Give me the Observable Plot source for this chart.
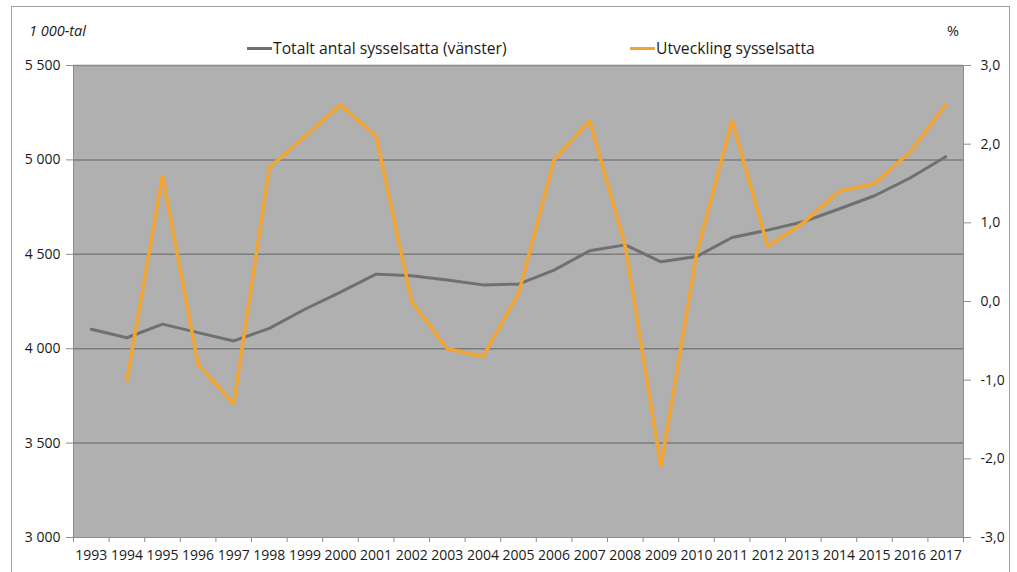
<!DOCTYPE html>
<html>
<head>
<meta charset="utf-8">
<script src="https://cdn.jsdelivr.net/npm/d3@7"></script>
<script src="https://cdn.jsdelivr.net/npm/@observablehq/plot@0.6"></script>
<style>
  body { margin: 0; background: #fff; font-family: "Open Sans", Lato, sans-serif; }
  #wrap { position: relative; width: 1017px; height: 572px; overflow: hidden; }
  #border { position: absolute; left: 11px; top: 6px; width: 999px; height: 575px; border: 1.5px solid #a0a0a0; box-sizing: border-box; }
  .lbl { position: absolute; font-size: 15.7px; color: #1a1a1a; white-space: nowrap; line-height: 1; }
  .sw { display: inline-block; width: 25px; height: 3px; vertical-align: middle; margin-right: 1px; position: relative; top: -1px; }
  #chart { position: absolute; left: 0; top: 0; }
</style>
</head>
<body>
<div id="wrap">
  <div id="border"></div>
  <div id="chart"></div>
  <div class="lbl" style="left:29px; top:24px; font-style:italic; font-size:14.5px;">1 000-tal</div>
  <div class="lbl" style="left:947px; top:24px; font-size:14.5px;">%</div>
  <div class="lbl" style="left:247px; top:41px;"><span class="sw" style="background:#6f6f6f"></span>Totalt antal sysselsatta (vänster)</div>
  <div class="lbl" style="left:630px; top:41px;"><span class="sw" style="background:#f2a530"></span>Utveckling sysselsatta</div>
</div>
<script>
const years = ["1993","1994","1995","1996","1997","1998","1999","2000","2001","2002","2003","2004","2005","2006","2007","2008","2009","2010","2011","2012","2013","2014","2015","2016","2017"];
const total = [4103,4058,4130,4085,4041,4108,4209,4300,4395,4386,4364,4338,4342,4416,4519,4550,4460,4488,4589,4628,4672,4740,4810,4904,5017];
const changeYears = ["1994","1995","1996","1997","1998","1999","2000","2001","2002","2003","2004","2005","2006","2007","2008","2009","2010","2011","2012","2013","2014","2015","2016","2017"];
const change = [-1.0,1.6,-0.8,-1.3,1.7,2.1,2.5,2.1,0.0,-0.6,-0.7,0.1,1.8,2.3,0.7,-2.1,0.6,2.3,0.7,1.0,1.4,1.5,1.9,2.5];
const leftTicks = [3000,3500,4000,4500,5000,5500];
const rightTicks = [-3,-2,-1,0,1,2,3];

const toLeft = d3.scaleLinear([-3, 3], [3000, 5500]);
const fmtL = d => d3.format(",")(d).replace(/,/g, " ");
const fmtR = d => { let v = Math.round(toLeft.invert(d) * 10) / 10; if (Math.abs(v) < 1e-9) v = 0; return v.toFixed(1).replace(".", ","); };

const half = 890 / 25 / 2;

const chart = Plot.plot({
  width: 1017,
  height: 572,
  marginLeft: 73,
  marginRight: 54,
  marginTop: 65,
  marginBottom: 35,
  style: { fontFamily: "'Open Sans', Lato, sans-serif", fontSize: "14px", color: "#1a1a1a", background: "transparent", overflow: "visible" },
  x: { type: "point", domain: years, padding: 0.5, round: false },
  y: { domain: [3000, 5500] },
  marks: [
    Plot.frame({ fill: "#b0b0b0", stroke: null }),
    Plot.gridY(leftTicks.filter(d => d > 3000), { stroke: "#7c7c7c", strokeOpacity: 1, strokeWidth: 1.5 }),
    Plot.frame({ stroke: "#8c8c8c", fill: null, strokeWidth: 1 }),
    Plot.axisY(leftTicks, { anchor: "left", tickSize: 7, tickPadding: 6, tickFormat: fmtL, stroke: "#8c8c8c", fill: "#1a1a1a", label: null }),
    Plot.axisY(rightTicks.map(toLeft), { anchor: "right", tickSize: 7, tickPadding: 10, tickFormat: fmtR, stroke: "#8c8c8c", fill: "#1a1a1a", label: null }),
    Plot.axisX(years, { tickSize: 0, tickPadding: 13, label: null, fill: "#1a1a1a" }),
    Plot.axisX(years, { tickSize: 5, tickFormat: () => "", dx: -half, stroke: "#8c8c8c", label: null }),
    Plot.axisX([years[years.length - 1]], { tickSize: 5, tickFormat: () => "", dx: half, stroke: "#8c8c8c", label: null }),
    Plot.line(total, { x: years, y: total, stroke: "#707070", strokeWidth: 3, strokeLinejoin: "miter" }),
    Plot.line(change, { x: changeYears, y: change.map(toLeft), stroke: "#f2a530", strokeWidth: 3.5, strokeLinejoin: "miter" })
  ]
});
document.getElementById("chart").appendChild(chart);
</script>
</body>
</html>
